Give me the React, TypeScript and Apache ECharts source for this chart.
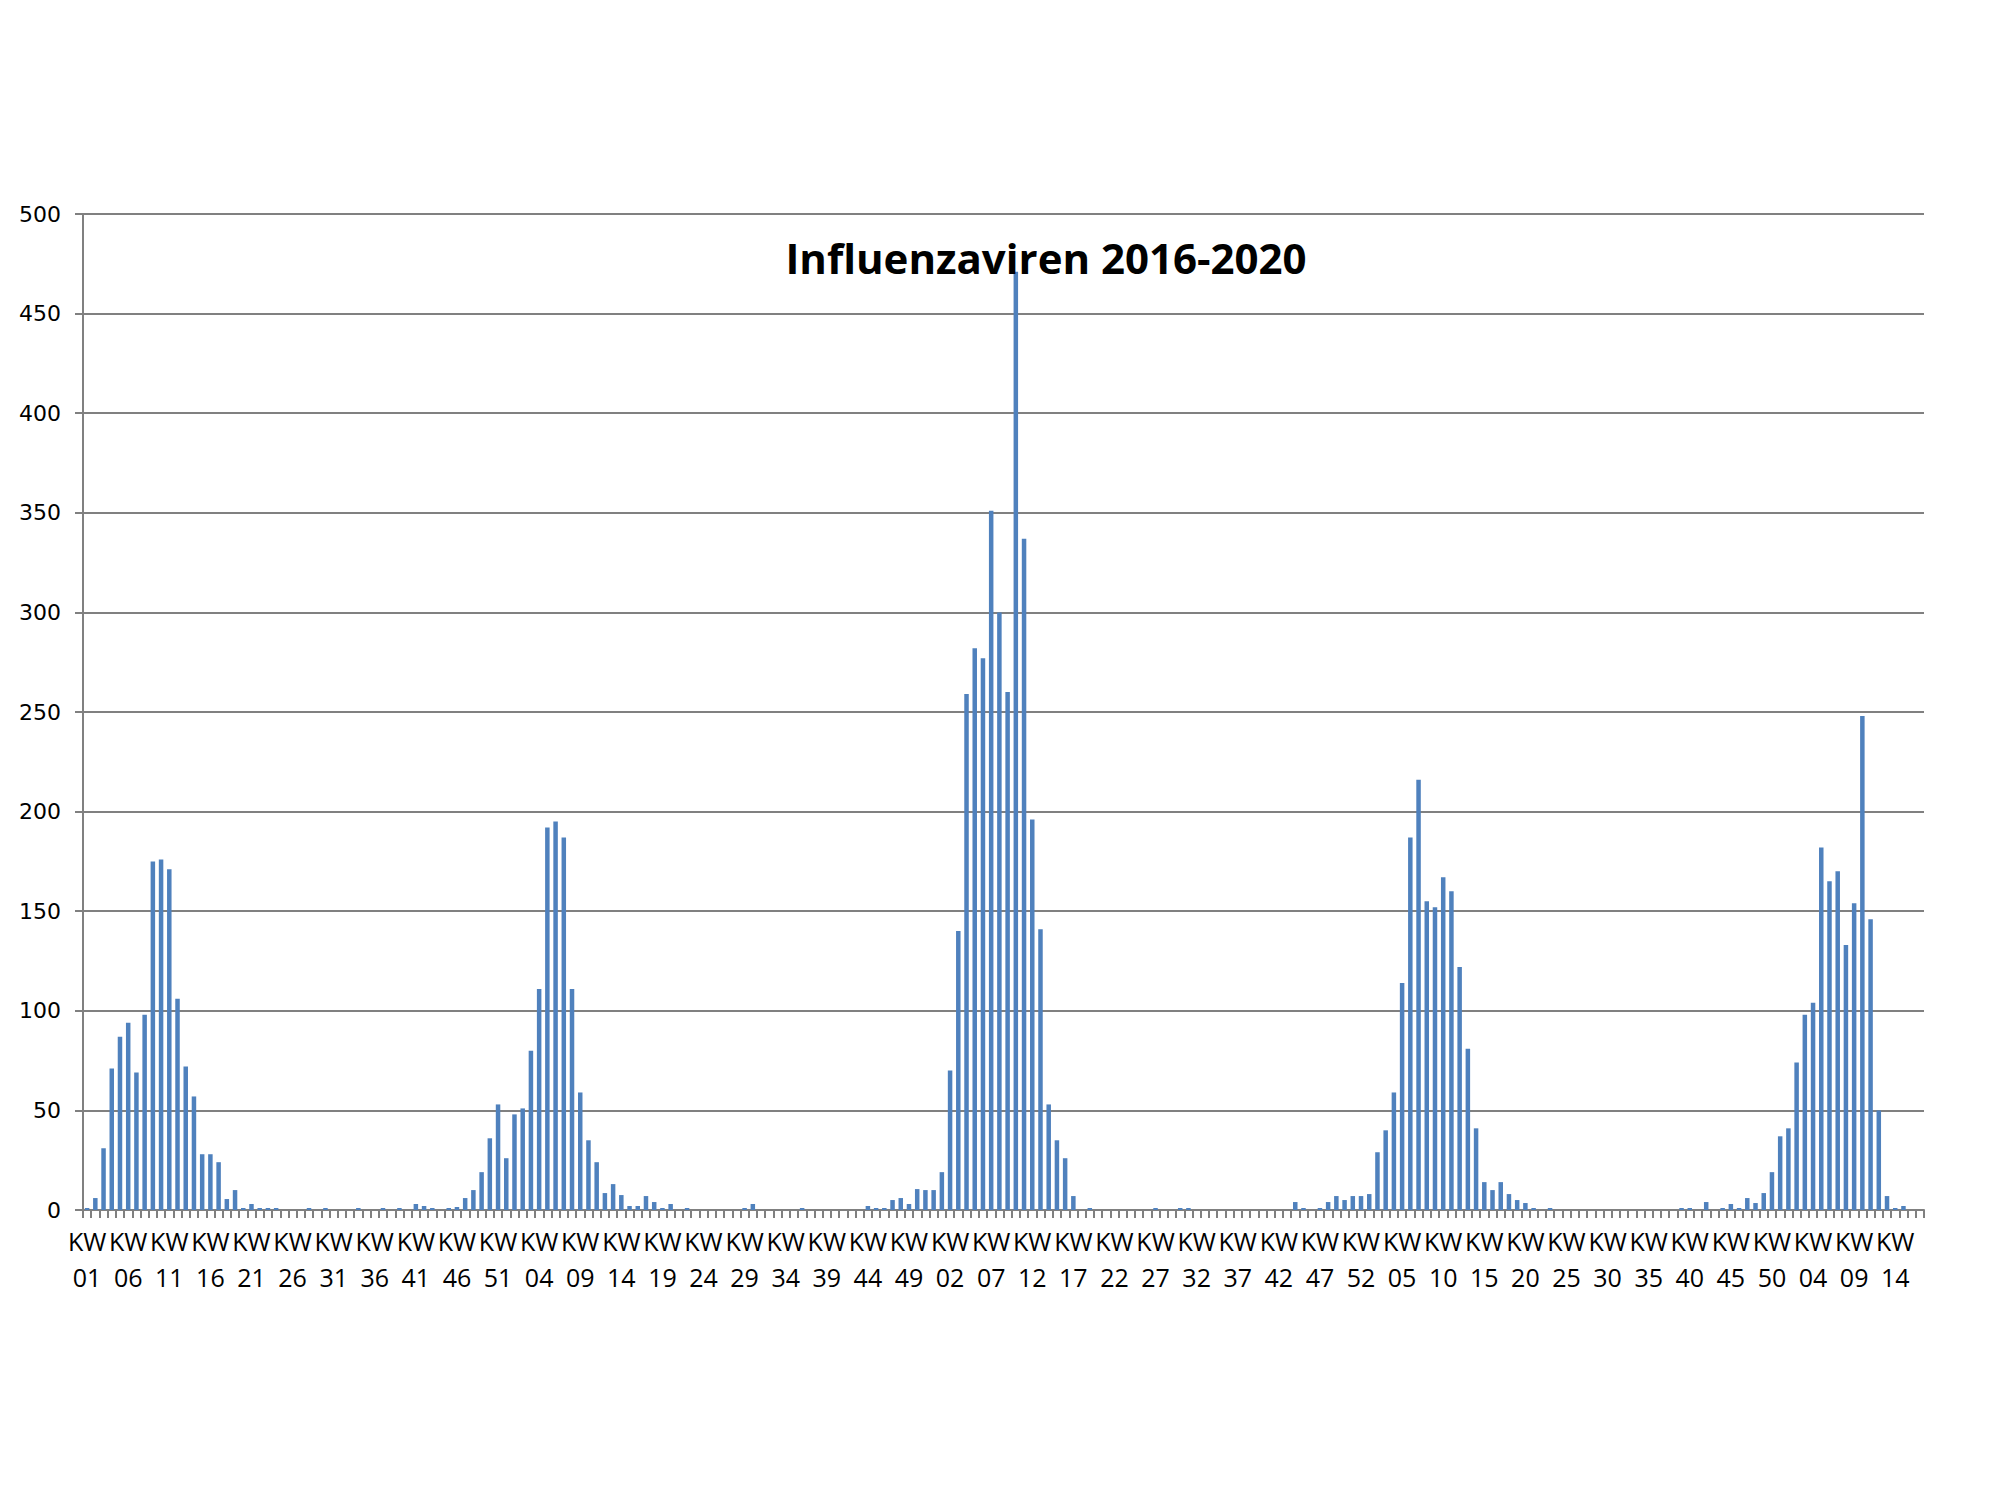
import React, { useEffect, useRef } from "react";
import * as echarts from "echarts";

const chartTitle = "Influenzaviren 2016-2020";
const years = [2016, 2017, 2018, 2019, 2020];
const weeksPerYear = [52, 52, 52, 51, 17];

const values2016 = [
  1, 6, 31, 71, 87, 94, 69, 98, 175, 176, 171, 106, 72, 57, 28, 28, 24, 5.5, 10, 1,
  3, 1, 1, 1, 0, 0, 0, 1, 0, 1, 0, 0, 0, 1, 0, 0, 1, 0, 1, 0,
  3, 2, 1, 0, 1, 1.5, 6, 10, 19, 36, 53, 26,
];
const values2017 = [
  48, 51, 80, 111, 192, 195, 187, 111, 59, 35, 24, 8.5, 13, 7.5, 2, 2, 7, 4, 1, 3,
  0, 1, 0, 0, 0, 0, 0, 0, 1, 3, 0, 0, 0, 0, 0, 1, 0, 0, 0, 0,
  0, 0, 0, 2, 1, 1, 5, 6, 3, 10.5, 10, 10,
];
const values2018 = [
  19, 70, 140, 259, 282, 277, 351, 300, 260, 471, 337, 196, 141, 53, 35, 26, 7, 0, 1, 0,
  0, 0, 0, 0, 0, 0, 1, 0, 0, 1, 1, 0, 0, 0, 0, 0, 0, 0, 0, 0,
  0, 0, 0, 4, 1, 0, 1, 4, 7, 5, 7, 7,
];
const values2019 = [
  8, 29, 40, 59, 114, 187, 216, 155, 152, 167, 160, 122, 81, 41, 14, 10, 14, 8, 5, 3.5,
  1, 0, 1, 0, 0, 0, 0, 0, 0, 0, 0, 0, 0, 0, 0, 0, 0, 0, 1, 1,
  0, 4, 0, 1, 3, 1, 6, 3.5, 8.5, 19, 37,
];
const values2020 = [41, 74, 98, 104, 182, 165, 170, 133, 154, 248, 146, 50, 7, 1, 2, 0, 0];

const yearValues = [values2016, values2017, values2018, values2019, values2020];

const categories: string[] = [];
const seriesValues: number[] = [];
years.forEach((y, yi) => {
  for (let w = 1; w <= weeksPerYear[yi]; w++) {
    categories.push("KW " + String(w).padStart(2, "0") + " " + y);
    seriesValues.push(yearValues[yi][w - 1]);
  }
});

const gridGray = "#808080";

export default function App() {
  const ref = useRef<HTMLDivElement>(null);
  useEffect(() => {
    if (!ref.current) return;
    const chart = echarts.init(ref.current, undefined, { renderer: "svg" });
    chart.setOption({
      animation: false,
      backgroundColor: "#ffffff",
      grid: { left: 83, right: 77, top: 214, bottom: 291, containLabel: false },
      graphic: [
        {
          type: "text",
          z: 100,
          x: 1046,
          y: 257,
          style: {
            text: chartTitle,
            fontFamily: "Open Sans",
            fontWeight: "bold",
            fontSize: 42,
            fill: "#000000",
            textAlign: "center",
            textVerticalAlign: "middle",
          },
        },
      ],
      xAxis: {
        type: "category",
        data: categories,
        boundaryGap: true,
        axisLine: { show: true, lineStyle: { color: gridGray, width: 2 } },
        axisTick: { show: true, interval: 0, length: 8, lineStyle: { color: gridGray, width: 2 } },
        axisLabel: {
          interval: 4,
          margin: 13,
          fontFamily: "Open Sans",
          fontSize: 25,
          lineHeight: 36,
          color: "#000000",
          formatter: (v: string) => {
            const parts = v.split(" ");
            return parts[0] + "\n" + parts[1];
          },
        },
        splitLine: { show: false },
      },
      yAxis: {
        type: "value",
        min: 0,
        max: 500,
        interval: 50,
        axisLine: { show: true, lineStyle: { color: gridGray, width: 2 } },
        axisTick: { show: true, length: 8, lineStyle: { color: gridGray, width: 2 } },
        axisLabel: {
          margin: 22,
          fontFamily: "DejaVu Sans",
          fontSize: 22,
          color: "#000000",
        },
        splitLine: { show: true, lineStyle: { color: gridGray, width: 2 } },
      },
      series: [
        {
          type: "bar",
          data: seriesValues,
          barWidth: 4.5,
          itemStyle: { color: "#4F81BD" },
        },
      ],
    });
    return () => chart.dispose();
  }, []);
  return (
    <div
      ref={ref}
      style={{ position: "fixed", left: 0, top: 0, width: 2001, height: 1501, background: "#fff" }}
    />
  );
}
